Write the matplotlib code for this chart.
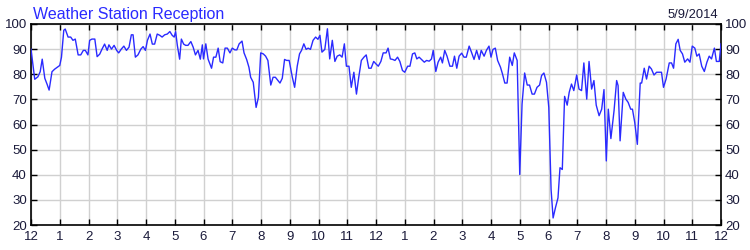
import matplotlib
matplotlib.use("Agg")
import matplotlib.pyplot as plt

# Time in hours since midnight, reception percentage
times = [
    0.00, 0.13, 0.24, 0.32, 0.39, 0.48, 0.56, 0.63, 0.73, 0.82, 0.94,
    1.00, 1.06, 1.14, 1.19, 1.29, 1.38, 1.46, 1.54, 1.64, 1.73, 1.82, 1.89, 1.98,
    2.04, 2.12, 2.22, 2.30, 2.39, 2.47, 2.56, 2.65, 2.71, 2.80, 2.89, 2.98,
    3.05, 3.14, 3.23, 3.32, 3.41, 3.49, 3.55, 3.63, 3.72, 3.82, 3.90, 3.98,
    4.05, 4.14, 4.22, 4.30, 4.39, 4.48, 4.56, 4.65, 4.74, 4.83, 4.91, 4.98,
    5.03, 5.09, 5.17, 5.23, 5.31, 5.38, 5.46, 5.56, 5.64, 5.72, 5.81, 5.89, 5.96,
    6.00, 6.08, 6.16, 6.28, 6.35, 6.43, 6.51, 6.58, 6.67, 6.75, 6.83, 6.92,
    7.00, 7.09, 7.16, 7.24, 7.34, 7.41, 7.50, 7.58, 7.64, 7.73, 7.83, 7.91, 7.99,
    8.08, 8.16, 8.24, 8.34, 8.42, 8.50, 8.59, 8.66, 8.74, 8.82, 8.89, 8.98,
    9.09, 9.17, 9.26, 9.34, 9.41, 9.49, 9.57, 9.64, 9.72, 9.81, 9.90, 9.98,
    10.05, 10.12, 10.22, 10.31, 10.39, 10.48, 10.57, 10.65, 10.74, 10.82, 10.90, 10.97,
    11.06, 11.14, 11.23, 11.32, 11.40, 11.49, 11.58, 11.66, 11.75, 11.83, 11.92,
    12.00, 12.08, 12.17, 12.25, 12.35, 12.42, 12.50, 12.58, 12.66, 12.75, 12.83, 12.92,
    13.00, 13.10, 13.18, 13.27, 13.35, 13.42, 13.50, 13.58, 13.68, 13.76, 13.85, 13.93, 13.99,
    14.08, 14.16, 14.25, 14.31, 14.39, 14.47, 14.57, 14.66, 14.73, 14.81, 14.89, 14.98,
    15.06, 15.14, 15.24, 15.32, 15.41, 15.50, 15.59, 15.66, 15.76, 15.84, 15.93,
    16.00, 16.07, 16.15, 16.23, 16.33, 16.40, 16.48, 16.56, 16.65, 16.74, 16.81, 16.91,
    17.00, 17.08, 17.17, 17.26, 17.34, 17.43, 17.51, 17.60, 17.69, 17.76, 17.84, 17.93,
    18.01, 18.09, 18.16, 18.24, 18.33, 18.40, 18.48, 18.56, 18.65, 18.72, 18.80, 18.88, 18.98,
    19.06, 19.15, 19.23, 19.33, 19.41, 19.50, 19.58, 19.66, 19.76, 19.85, 19.93,
    20.01, 20.08, 20.17, 20.28, 20.37, 20.42, 20.49, 20.60, 20.69, 20.77, 20.86, 20.92,
    21.00, 21.09, 21.19, 21.24, 21.33, 21.41, 21.50, 21.58, 21.67, 21.76, 21.85, 21.93,
    22.00, 22.09, 22.20, 22.28, 22.35, 22.43, 22.51, 22.58, 22.66, 22.74, 22.84, 22.92,
    23.00, 23.09, 23.16, 23.24, 23.33, 23.42, 23.51, 23.59, 23.67, 23.77, 23.84, 23.94, 24.00,
]
reception = [
    90, 78, 79, 81, 86, 78.4, 76, 73.7, 81, 82, 83,
    83.5, 86.8, 97.5, 98, 94.8, 94.8, 93.5, 94, 87.7, 87.7, 89.5, 89.5, 87.7,
    93.5, 94, 94, 87, 88, 90, 92, 89.5, 91.7, 90, 91.5, 89.5,
    88.5, 90, 91.2, 89.5, 90.8, 95.7, 95.7, 86.8, 87.7, 90, 91, 89.5,
    93.5, 96, 92, 92, 96, 95.5, 94.8, 95.7, 96, 97, 95.5, 94.8,
    97, 91.5, 86, 94, 92, 91.5, 91.5, 93, 90.8, 87.7, 89.5, 86, 91.7,
    86.1, 92.1, 86, 82.4, 86.8, 86.8, 90.4, 85, 84.5, 90.4, 90.4, 88.5,
    90.4, 89.7, 89.7, 92.1, 93.2, 88.5, 85.9, 82.8, 78.8, 76.8, 66.8, 70.8, 88.5,
    88.1, 87.2, 85.5, 75.7, 78.8, 78.8, 77.5, 76.5, 78.4, 85.9, 85.5, 85.5,
    78.8, 74.8, 83.2, 88.1, 89.5, 92.1, 89.9, 90.4, 89.9, 93.5, 94.8, 93.9,
    95.5, 88.8, 89.9, 98.1, 86.1, 93.5, 85.1, 87.2, 87.7, 86.8, 92.1, 83.2,
    83.2, 74.8, 80.8, 72.1, 78.8, 85.5, 86.8, 87.7, 82.4, 82.4, 85.1,
    84.1, 83.2, 85.1, 88.5, 88.5, 90.4, 86.1, 85.9, 85.5, 86.8, 85.1, 81.5,
    80.8, 83.2, 83.2, 88.1, 88.5, 86.1, 86.8, 85.9, 84.8, 85.5, 85.2, 86.1, 89.5,
    81.1, 84.8, 86.8, 84.5, 89.5, 87.2, 83.2, 83.2, 87.2, 82.4, 87.2, 88.4,
    86.8, 86.8, 91.2, 88.8, 85.9, 89.5, 85.9, 89.5, 87.2, 89.5, 91.2,
    86.8, 89.9, 90.4, 85.5, 82.8, 80.1, 76.5, 76.5, 86.8, 83.5, 88.5, 85.5,
    40.1, 68.1, 80.5, 75.7, 75.7, 72.1, 72.1, 74.8, 75.7, 79.5, 80.5, 76.8,
    66.8, 34.1, 22.8, 26.8, 30.8, 42.8, 42.1, 71.2, 67.7, 72.8, 76.1, 73.5, 79.7,
    74.1, 73.5, 84.5, 70.1, 85.1, 74.1, 77.5, 67.7, 63.5, 66.1, 73.9,
    45.5, 66.1, 54.4, 65.5, 77.5, 75.5, 53.5, 72.8, 70.1, 68.8, 66.1, 66.1,
    60.8, 52.1, 76.5, 76.5, 82.4, 78.1, 83.2, 82.1, 79.7, 80.8, 80.8, 80.8,
    74.8, 78.1, 84.5, 84.5, 82.4, 92.1, 93.9, 89.5, 88.1, 84.8, 86.1, 84.8,
    91.2, 90.4, 87.2, 88.1, 83.2, 81.1, 84.8, 87.2, 86.1, 90.4, 85.1, 85.1, 92.1,
]
hour_ticks = list(range(0, 25))
hour_labels = ["12", "1", "2", "3", "4", "5", "6", "7", "8", "9", "10", "11",
               "12", "1", "2", "3", "4", "5", "6", "7", "8", "9", "10", "11", "12"]
y_ticks = [20, 30, 40, 50, 60, 70, 80, 90, 100]

title_text = "Weather Station Reception"
date_text = "5/9/2014"

plt.rcParams['font.family'] = ['Liberation Sans', 'DejaVu Sans']

fig = plt.figure(figsize=(7.5, 2.5), dpi=100)
ax = fig.add_axes([31/750, 1 - 225/250, 690/750, 201/250])

ax.plot(times, reception, color='#2a2aff', linewidth=1.0, zorder=3)

ax.set_xlim(0, 24)
ax.set_ylim(20, 100)
ax.set_xticks(hour_ticks)
ax.set_xticklabels(hour_labels)
ax.set_yticks(y_ticks)
ax.set_yticklabels([str(v) for v in y_ticks])

ax.grid(True, color='#d0d0d0', linewidth=1.0, zorder=0)
ax.set_axisbelow(True)

tick_color = '#1a1a3a'
ax.tick_params(axis='both', direction='in', length=4, width=1, color='black',
               labelsize=9.5, labelcolor=tick_color,
               top=True, right=True, labelright=True, labelleft=True)
ax.tick_params(axis='x', pad=4)
ax.tick_params(axis='y', pad=3)

for s in ax.spines.values():
    s.set_color('black')
    s.set_linewidth(1.2)

fig.text(33/750, 1 - 18.5/250, title_text, color='#2a2aff', fontsize=11.5,
         ha='left', va='baseline')
fig.text(718/750, 1 - 17.5/250, date_text, color=tick_color, fontsize=9.3,
         ha='right', va='baseline')

fig.savefig('out.png', dpi=100, facecolor='white')
